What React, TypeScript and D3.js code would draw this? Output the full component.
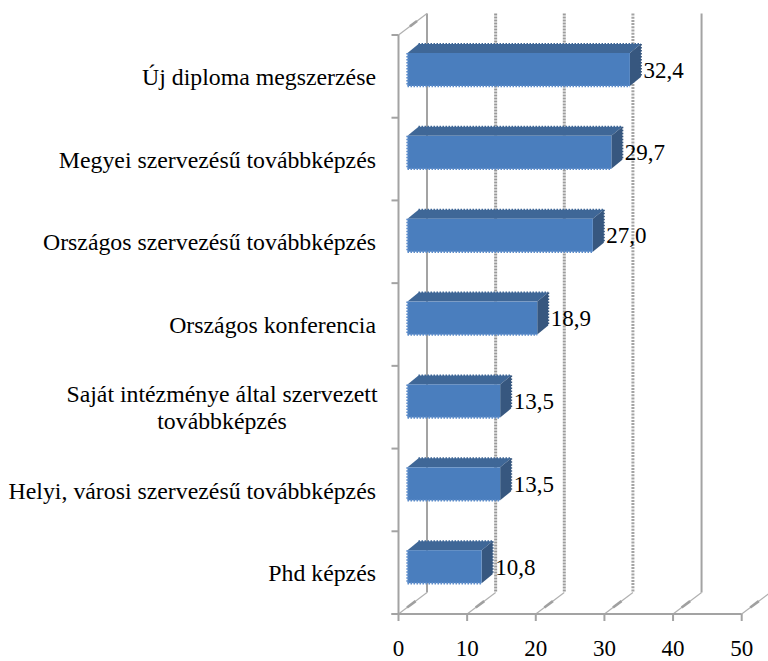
import React from "react";
import * as d3 from "d3";

const categories = [
  ["Új diploma megszerzése"],
  ["Megyei szervezésű továbbképzés"],
  ["Országos szervezésű továbbképzés"],
  ["Országos konferencia"],
  ["Saját intézménye által szervezett", "továbbképzés"],
  ["Helyi, városi szervezésű továbbképzés"],
  ["Phd képzés"],
];
const values = [32.4, 29.7, 27.0, 18.9, 13.5, 13.5, 10.8];
const valueLabels = ["32,4", "29,7", "27,0", "18,9", "13,5", "13,5", "10,8"];
const xTicks = [0, 10, 20, 30, 40, 50];

const W = 768, H = 661;
const FONT = '"Liberation Serif", "Times New Roman", serif';
const x = d3.scaleLinear().domain([0, 50]).range([398.5, 741.7]);
const y = d3.scaleBand<number>().domain(d3.range(categories.length)).range([35, 614]).paddingInner(0).paddingOuter(0);
const yBar = d3.scalePoint<number>().domain(d3.range(categories.length)).range([69.5, 566.7]);
const wallDX = 28.5, wallDY = 21.5;
const barInset = 9, barDX = 11, barDY = 9;
const barH = 33;
const gridStyles: Record<number, { dash?: string; w: number; c: string }> = {
  0: { w: 2, c: "#a3a3a3" },
  10: { w: 3, c: "#999999", dash: "2 1" },
  20: { w: 3, c: "#9c9c9c", dash: "2 1" },
  30: { w: 3, c: "#a4a4a4", dash: "2 1.2" },
  40: { w: 2, c: "#a3a3a3" },
  50: { w: 2, c: "#a3a3a3" },
};

export default function App() {
  const floor = y.range()[1];
  const top = y.range()[0];
  const line = d3.line();
  return (
    <svg width={W} height={H} style={{ position: "absolute", left: 0, top: 0, background: "#fff" }}>
      {/* wall gridlines */}
      {xTicks.map((t) => {
        const s = gridStyles[t];
        const bx = x(t) + wallDX;
        return (
          <g key={t}>
            <line x1={bx} x2={bx} y1={top - wallDY} y2={floor - wallDY} stroke={s.c} strokeWidth={s.w} strokeDasharray={s.dash} />
            <line x1={x(t)} y1={floor} x2={bx} y2={floor - wallDY} stroke="#b0b0b0" strokeWidth={1.2} />
            <line x1={x(t) + wallDX * 0.3} y1={floor - wallDY * 0.3} x2={x(t) + wallDX * 0.6} y2={floor - wallDY * 0.6} stroke="#a0a0a0" strokeWidth={2.6} />
          </g>
        );
      })}
      <line x1={x(0)} y1={top} x2={x(0) + wallDX} y2={top - wallDY} stroke="#b0b0b0" strokeWidth={1.2} />
      <line x1={x(0) + wallDX * 0.4} y1={top - wallDY * 0.4} x2={x(0) + wallDX * 0.65} y2={top - wallDY * 0.65} stroke="#a0a0a0" strokeWidth={2.6} />
      {/* axes */}
      <line x1={x(0)} x2={x(0)} y1={top} y2={floor} stroke="#a3a3a3" strokeWidth={2} />
      <line x1={x(0) - 7} x2={x(50)} y1={floor} y2={floor} stroke="#a3a3a3" strokeWidth={2} />
      {d3.range(categories.length + 1).map((i) => {
        const yy = top + i * y.step();
        return <line key={i} x1={x(0) - 7} x2={x(0)} y1={yy} y2={yy} stroke="#a3a3a3" strokeWidth={2} />;
      })}
      {xTicks.map((t) => (
        <line key={t} x1={x(t)} x2={x(t)} y1={floor} y2={floor + 7} stroke="#a3a3a3" strokeWidth={2} />
      ))}
      {/* bars */}
      {values.map((v, i) => {
        const yc = yBar(i)!;
        const y0 = yc - barH / 2, y1 = yc + barH / 2;
        const x0 = x(0) + barInset;
        const x1 = x(v) + barInset;
        const side = line([[x1, y0], [x1 + barDX, y0 - barDY], [x1 + barDX, y1 - barDY], [x1, y1]])! + "Z";
        const topFace = line([[x0, y0], [x0 + barDX, y0 - barDY], [x1 + barDX, y0 - barDY], [x1, y0]])! + "Z";
        return (
          <g key={i}>
            <path d={topFace} fill="#3f6797" />
            <path d={side} fill="#37577f" />
            <line x1={x0 + barDX} x2={x1 + barDX} y1={y0 - barDY} y2={y0 - barDY} stroke="#3f6797" strokeWidth={2} strokeDasharray="1.5 1.5" />
            <line x1={x1 + barDX} x2={x1 + barDX} y1={y0 - barDY} y2={y1 - barDY} stroke="#37577f" strokeWidth={2} strokeDasharray="1.5 1.5" />
            <rect x={x0} y={y0} width={x1 - x0} height={y1 - y0} fill="#4a7ebe" />
            <line x1={x0} x2={x0} y1={y0} y2={y1} stroke="#5c8cca" strokeWidth={2.4} strokeDasharray="1.5 1.5" />
            <line x1={x0} x2={x1} y1={y1} y2={y1} stroke="#5c8cca" strokeWidth={2.4} strokeDasharray="1.5 1.5" />
            <text x={x1 + barDX + 2.5} y={yc + 8} fontFamily={FONT} fontSize={23} fill="#000">{valueLabels[i]}</text>
          </g>
        );
      })}
      {/* category labels */}
      {categories.map((lines, i) => {
        const yc = y(i)! + y.bandwidth() / 2 + 1.6;
        const lh = 27;
        return lines.map((l, j) => (
          <text
            key={j}
            x={lines.length > 1 ? 222 : 376}
            y={yc + 7 + (j - (lines.length - 1) / 2) * lh}
            textAnchor={lines.length > 1 ? "middle" : "end"}
            fontFamily={FONT}
            fontSize={23.8}
            fill="#000"
          >
            {l}
          </text>
        ));
      })}
      {/* x tick labels */}
      {xTicks.map((t) => (
        <text key={t} x={x(t)} y={656} textAnchor="middle" fontFamily={FONT} fontSize={23} fill="#000">{t}</text>
      ))}
    </svg>
  );
}
